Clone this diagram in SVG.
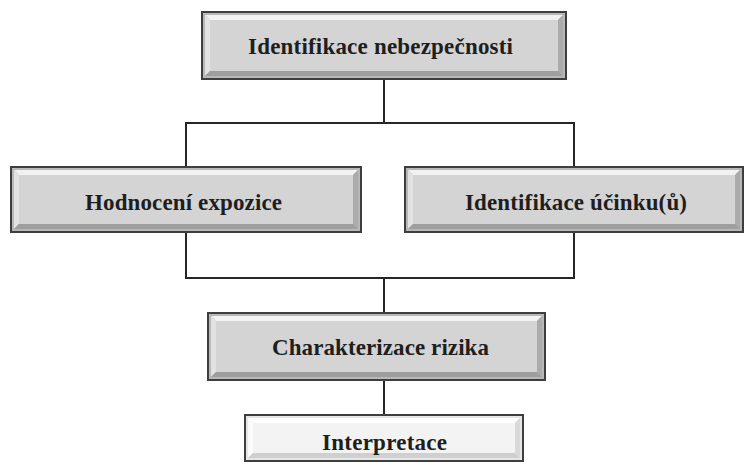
<svg xmlns="http://www.w3.org/2000/svg" width="745" height="463" viewBox="0 0 745 463">
<style>
.frame{fill:#b8b8b8;stroke:#3e3e3e;stroke-width:2}
.t{fill:#f2f2f2}.l{fill:#e2e2e2}.r{fill:#ababab}.b{fill:#9e9e9e}.f{fill:#d4d4d4}
.lt .frame{fill:#e6e6e6}
.lt .t{fill:#ffffff}.lt .l{fill:#fbfbfb}.lt .r{fill:#d9d9d9}.lt .b{fill:#cfcfcf}.lt .f{fill:#f3f3f3}
.lbl{font-family:"Liberation Serif","Times New Roman",serif;font-weight:bold;font-size:23px;fill:#1e1e1e;text-anchor:middle}
.conn{stroke:#262626;stroke-width:2;fill:none}
</style>
<rect width="745" height="463" fill="#ffffff"/>
<g id="connectors">
<path class="conn" d="M384 79V123M186 167V123H574V167"/>
<path class="conn" d="M186 232V278H574V232M384 278V313"/>
<path class="conn" d="M384 380V415"/>
</g>
<g id="identifikace-nebezpecnosti">
<rect class="frame" x="202" y="12" width="364" height="67"/>
<path class="t" d="M205 15H563L558 20H210Z"/>
<path class="l" d="M205 15L210 20V71L205 76Z"/>
<path class="r" d="M563 15L558 20V71L563 76Z"/>
<path class="b" d="M205 76H563L558 71H210Z"/>
<rect class="f" x="210" y="20" width="348" height="51"/>
<text class="lbl" x="380.5" y="54" textLength="265" lengthAdjust="spacing">Identifikace nebezpečnosti</text>
</g>
<g id="hodnoceni-expozice">
<rect class="frame" x="11" y="167" width="350" height="65"/>
<path class="t" d="M14 170H358L353 175H19Z"/>
<path class="l" d="M14 170L19 175V224L14 229Z"/>
<path class="r" d="M358 170L353 175V224L358 229Z"/>
<path class="b" d="M14 229H358L353 224H19Z"/>
<rect class="f" x="19" y="175" width="334" height="49"/>
<text class="lbl" x="183.5" y="210" textLength="197" lengthAdjust="spacing">Hodnocení expozice</text>
</g>
<g id="identifikace-ucinku">
<rect class="frame" x="405" y="167" width="338" height="65"/>
<path class="t" d="M408 170H740L735 175H413Z"/>
<path class="l" d="M408 170L413 175V224L408 229Z"/>
<path class="r" d="M740 170L735 175V224L740 229Z"/>
<path class="b" d="M408 229H740L735 224H413Z"/>
<rect class="f" x="413" y="175" width="322" height="49"/>
<text class="lbl" x="576" y="210" textLength="222" lengthAdjust="spacing">Identifikace účinku(ů)</text>
</g>
<g id="charakterizace-rizika">
<rect class="frame" x="208" y="313" width="337" height="67"/>
<path class="t" d="M211 316H542L537 321H216Z"/>
<path class="l" d="M211 316L216 321V372L211 377Z"/>
<path class="r" d="M542 316L537 321V372L542 377Z"/>
<path class="b" d="M211 377H542L537 372H216Z"/>
<rect class="f" x="216" y="321" width="321" height="51"/>
<text class="lbl" x="380.5" y="355" textLength="217" lengthAdjust="spacing">Charakterizace rizika</text>
</g>
<g id="interpretace" class="lt">
<rect class="frame" x="245" y="415" width="278" height="46"/>
<path class="t" d="M248 418H520L515 423H253Z"/>
<path class="l" d="M248 418L253 423V453L248 458Z"/>
<path class="r" d="M520 418L515 423V453L520 458Z"/>
<path class="b" d="M248 458H520L515 453H253Z"/>
<rect class="f" x="253" y="423" width="262" height="30"/>
<text class="lbl" x="384.5" y="450" textLength="125" lengthAdjust="spacing">Interpretace</text>
</g>
</svg>
